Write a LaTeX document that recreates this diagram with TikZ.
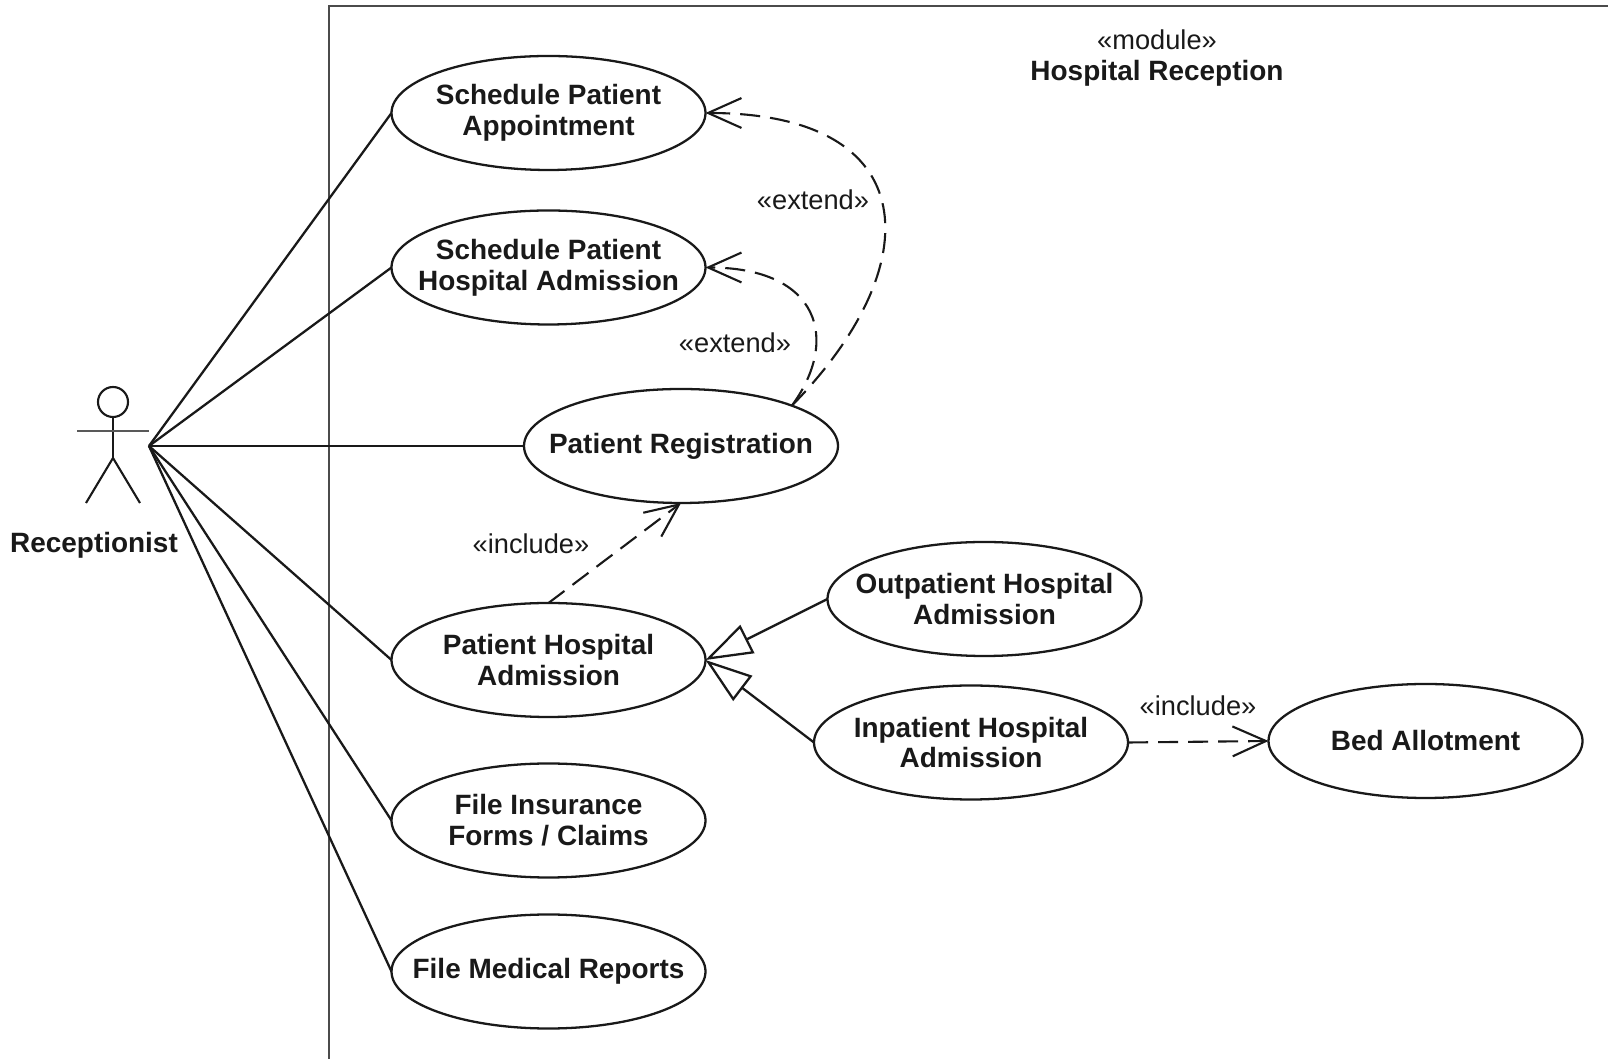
\documentclass[tikz,border=0pt]{standalone}
\usepackage{fontspec}
\setmainfont{Liberation Sans}
\usetikzlibrary{shapes.geometric, arrows.meta}
\definecolor{framegray}{RGB}{75, 75, 75}
\definecolor{inkdark}{RGB}{25, 25, 25}
\tikzset{
  usecase/.style={draw=inkdark, ellipse, line width=1.3pt, minimum width=6.28cm, minimum height=2.28cm, inner xsep=-0.6cm, inner ysep=0pt, outer sep=0pt, align=center, font=\fontsize{15.9}{17.5}\selectfont\bfseries, text=inkdark},
  assoc/.style={line width=1.3pt, inkdark},
  stickman/.style={line width=1.2pt, inkdark},
  depend/.style={line width=1.2pt, inkdark, dash pattern=on 11.4pt off 5.7pt, -{Straight Barb[length=19pt, width=17pt, line width=1.2pt]}},
  general/.style={line width=1.3pt, inkdark, -{Triangle[open, length=26.7pt, width=17.8pt, line width=1.3pt]}},
  stereo/.style={font=\fontsize{15.5}{17.5}\selectfont, text=inkdark, inner sep=0pt},
  boldlabel/.style={font=\fontsize{15.9}{17.5}\selectfont\bfseries, text=inkdark, inner sep=0pt}
}

\begin{document}
\begin{tikzpicture}
  \useasboundingbox (0,0) rectangle (32.16,21.16);

  % Module frame
  \draw[line width=1.5pt, framegray] (6.58,-0.5) -- (6.58,21.04) -- (32.7,21.04);
  \node[stereo] (modtag) at (23.14,20.36) {«module»};
  \node[boldlabel] (modname) at (23.14,19.7) {Hospital Reception};

  % Actor
  \node[draw=inkdark, circle, line width=1.2pt, minimum size=0.6cm, inner sep=0pt] (head) at (2.26,13.12) {};
  \coordinate (hip) at (2.26,12.0);
  \coordinate (armL) at (1.54,12.54);
  \coordinate (armR) at (2.98,12.54);
  \coordinate (legL) at (1.72,11.1);
  \coordinate (legR) at (2.8,11.1);
  \coordinate (actor) at (2.98,12.24);
  \draw[stickman] (head.south) -- (hip);
  \draw[stickman, line width=1.5pt, black!65] (armL) -- (armR);
  \draw[stickman] (legL) -- (hip) -- (legR);
  \node[boldlabel] (recep) at (1.88,10.26) {Receptionist};

  % Use cases
  \node[usecase] (sched) at (10.97,18.9) {Schedule Patient\\Appointment};
  \node[usecase] (hosp) at (10.97,15.81) {Schedule Patient\\Hospital Admission};
  \node[usecase] (reg) at (13.62,12.24) {Patient Registration};
  \node[usecase] (padm) at (10.97,7.96) {Patient Hospital\\Admission};
  \node[usecase] (outp) at (19.69,9.18) {Outpatient Hospital\\Admission};
  \node[usecase] (inp) at (19.42,6.31) {Inpatient Hospital\\Admission};
  \node[usecase] (bed) at (28.51,6.34) {Bed Allotment};
  \node[usecase] (ins) at (10.97,4.75) {File Insurance\\Forms / Claims};
  \node[usecase] (med) at (10.97,1.73) {File Medical Reports};

  % Associations
  \draw[assoc] (actor) -- (sched.west);
  \draw[assoc] (actor) -- (hosp.west);
  \draw[assoc] (actor) -- (reg.west);
  \draw[assoc] (actor) -- (padm.west);
  \draw[assoc] (actor) -- (ins.west);
  \draw[assoc] (actor) -- (med.west);

  % Extend and include
  \draw[depend] (reg.20) .. controls (18.6,15.86) and (18.5,18.9) .. (sched.east);
  \draw[depend] (reg.20) .. controls (16.8,14.36) and (16.4,15.81) .. (hosp.east);
  \draw[depend] (padm.north) -- (reg.south);
  \draw[depend] (inp.east) -- (bed.west);
  \node[stereo] (ext1) at (16.26,17.16) {«extend»};
  \node[stereo] (ext2) at (14.7,14.31) {«extend»};
  \node[stereo] (inc1) at (10.62,10.29) {«include»};
  \node[stereo] (inc2) at (23.96,7.05) {«include»};

  % Generalization
  \draw[general] (outp.west) -- (padm.east);
  \draw[general] (inp.west) -- (padm.east);
\end{tikzpicture}
\end{document}
